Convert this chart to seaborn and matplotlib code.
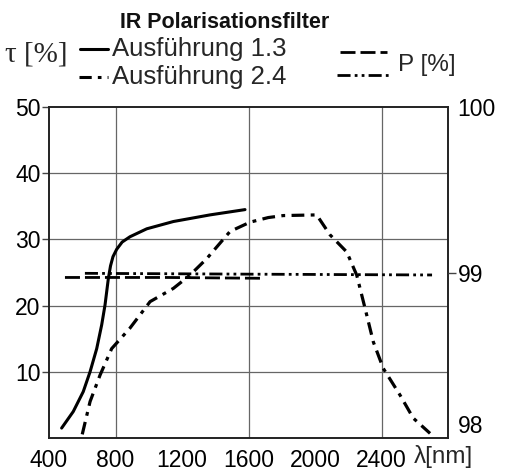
import matplotlib
matplotlib.use("Agg")
import matplotlib.pyplot as plt
from matplotlib.lines import Line2D
import seaborn as sns
import pandas as pd

# --- transmission tau [%], Ausfuehrung 1.3 (solid)
lam_13 = [476, 546, 606, 647, 687, 717, 737, 757, 770, 785, 807, 840, 887, 988, 1148, 1368, 1579]
tau_13 = [1.5, 4.0, 7.0, 10.0, 13.5, 17.1, 20.1, 24.1, 26.0, 27.4, 28.5, 29.6, 30.4, 31.6,
          32.7, 33.7, 34.5]

# --- transmission tau [%], Ausfuehrung 2.4 (dash-dot)
lam_24 = [600, 647, 707, 777, 887, 1008, 1148, 1248, 1349, 1489, 1609, 1719, 1809, 2010,
          2090, 2191, 2251, 2301, 2351, 2411, 2511, 2591, 2692]
tau_24 = [0.55, 5.5, 9.5, 13.5, 16.6, 20.6, 22.6, 24.6, 27.1, 31.2, 32.6, 33.3, 33.6, 33.7,
          30.7, 28.1, 24.6, 19.6, 14.5, 10.5, 6.5, 3.0, 0.7]

# --- polarisation P [%] (right axis)
lam_p13 = [496, 1100, 1687]
p_13 = [98.97, 98.97, 98.965]
lam_p24 = [616, 1600, 2704]
p_24 = [98.995, 98.99, 98.985]

x_ticks = [400, 800, 1200, 1600, 2000, 2400]
y_ticks = [10, 20, 30, 40, 50]
p_ticks = [98, 99, 100]

sns.set_theme(style="white")
plt.rcParams['font.family'] = ['Liberation Sans', 'DejaVu Sans']

W, H = 507, 474
fig = plt.figure(figsize=(W / 100, H / 100), dpi=100)
ax = fig.add_axes([49 / W, 1 - 438 / H, 399 / W, 331 / H])

DASHDOT = (4, 2, 1.2, 2)
DASHED = (5.4, 1.8)
DASHDOTDOT = (4.7, 1.5, 1, 1.5, 1, 1.5)

df13 = pd.DataFrame({'lam': lam_13, 'tau': tau_13})
df24 = pd.DataFrame({'lam': lam_24, 'tau': tau_24})
sns.lineplot(data=df13, x='lam', y='tau', ax=ax, color='black', lw=2.2, sort=False)
sns.lineplot(data=df24, x='lam', y='tau', ax=ax, color='black', lw=2.3, sort=False)
ax.lines[-1].set_dashes(DASHDOT)

ax.set_xlim(400, 2800)
ax.set_ylim(0, 50)
ax.set_xticks(x_ticks)
ax.set_xticklabels([str(v) for v in x_ticks])
ax.set_yticks(y_ticks)
ax.set_yticklabels([str(v) for v in y_ticks])
ax.set_xlabel('')
ax.set_ylabel('')
for v in [800, 1600, 2400]:
    ax.axvline(v, color='#666666', lw=0.9, zorder=0)
for v in [10, 20, 30, 40]:
    ax.axhline(v, color='#666666', lw=0.9, zorder=0)
for s in ax.spines.values():
    s.set_color('#222222')
    s.set_linewidth(1.4)
ax.tick_params(axis='both', direction='out', length=5, width=1.0, color='#444444',
               labelsize=16.5, labelcolor='black')
ax.tick_params(axis='y', pad=1)
ax.tick_params(axis='x', pad=3)
ax.yaxis.get_major_ticks()[-1].tick1line.set_visible(False)

ax2 = ax.twinx()
dfp13 = pd.DataFrame({'lam': lam_p13, 'p': p_13})
dfp24 = pd.DataFrame({'lam': lam_p24, 'p': p_24})
sns.lineplot(data=dfp13, x='lam', y='p', ax=ax2, color='black', lw=2, sort=False)
ax2.lines[-1].set_dashes(DASHED)
sns.lineplot(data=dfp24, x='lam', y='p', ax=ax2, color='black', lw=2, sort=False)
ax2.lines[-1].set_dashes(DASHDOTDOT)
ax2.set_ylim(98, 100)
ax2.set_yticks(p_ticks)
ax2.set_yticklabels([str(v) for v in p_ticks])
ax2.set_ylabel('')
ax2.tick_params(axis='y', direction='out', length=6, width=1.0, color='#444444',
                labelsize=16.5, labelcolor='black', pad=1)
ax2.get_yticklabels()[0].set_va('bottom')
ax2.yaxis.get_major_ticks()[0].tick2line.set_visible(False)
ax2.yaxis.get_major_ticks()[2].tick2line.set_visible(False)
for s in ax2.spines.values():
    s.set_visible(False)


# header / legend in pixel positions
def fx(px):
    return px / W


def fy(py):
    return 1 - py / H


fig.text(fx(225), fy(22), 'IR Polarisationsfilter', ha='center', va='center',
         fontsize=15.5, fontweight='bold', color='#111111')
fig.text(fx(5), fy(55), 'τ [%]', ha='left', va='center', fontsize=21,
         family=['Liberation Serif', 'DejaVu Serif'])
fig.text(fx(112), fy(49), 'Ausführung 1.3', ha='left', va='center', fontsize=18.5)
fig.text(fx(112), fy(77), 'Ausführung 2.4', ha='left', va='center', fontsize=18.5)
fig.text(fx(398), fy(65), 'P [%]', ha='left', va='center', fontsize=17.5)
fig.text(fx(414), fy(457), 'λ[nm]', ha='left', va='center', fontsize=17.5)

fig.add_artist(Line2D([fx(80), fx(108)], [fy(49), fy(49)], color='black', lw=2.2))
l = Line2D([fx(79), fx(108)], [fy(77), fy(77)], color='black', lw=2.2)
l.set_dashes(DASHDOT)
fig.add_artist(l)
l = Line2D([fx(340), fx(387)], [fy(52), fy(52)], color='black', lw=2)
l.set_dashes(DASHED)
fig.add_artist(l)
l = Line2D([fx(337), fx(392)], [fy(75), fy(75)], color='black', lw=2)
l.set_dashes(DASHDOTDOT)
fig.add_artist(l)

fig.savefig('out.png', dpi=100)
